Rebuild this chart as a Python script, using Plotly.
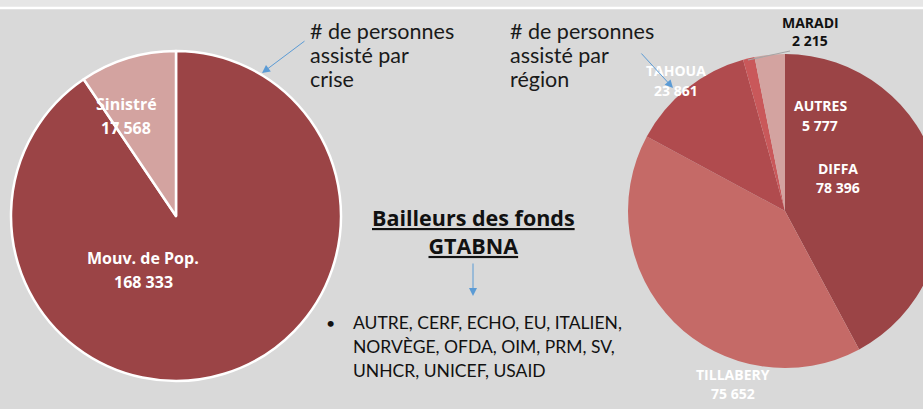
import plotly.graph_objects as go

# ---------------- data ----------------
crise_labels = ["Mouv. de Pop.", "Sinistré"]
crise_values = [168333, 17568]
crise_colors = ["#9b4446", "#d3a3a0"]

region_labels = ["DIFFA", "TILLABERY", "TAHOUA", "MARADI", "AUTRES"]
region_values = [78396, 75652, 23861, 2215, 5777]
region_colors = ["#9b4446", "#c56a67", "#b04b4e", "#c9585a", "#d3a3a0"]

bailleurs_lines = ["AUTRE, CERF, ECHO, EU, ITALIEN,",
                   "NORVÈGE, OFDA, OIM, PRM, SV,",
                   "UNHCR, UNICEF, USAID"]

W, H = 950, 409
FONT = "Lato, 'Liberation Sans', sans-serif"
BFONT = "'Open Sans', 'Liberation Sans', sans-serif"


def px(x, y):
    return x / W, 1 - y / H


def fmt(v):
    return f"{v:,}".replace(",", " ")


def dom(cx, cy, r):
    x0, y1 = px(cx - r, cy - r)
    x1, y0 = px(cx + r, cy + r)
    return dict(x=[x0, x1], y=[y0, y1])


fig = go.Figure()
fig.add_trace(go.Pie(
    labels=crise_labels, values=crise_values, sort=False, direction="clockwise",
    rotation=0, textinfo="none", hoverinfo="label+value",
    marker=dict(colors=crise_colors, line=dict(color="white", width=2.5)),
    domain=dom(176, 216, 165), showlegend=False))
fig.add_trace(go.Pie(
    labels=region_labels, values=region_values, sort=False, direction="clockwise",
    rotation=0, textinfo="none", hoverinfo="label+value",
    marker=dict(colors=region_colors, line=dict(width=0)),
    domain=dom(785, 211, 157), showlegend=False))

ann = []


def text(x, y, s, size, color="#1a1a1a", bold=False, xanchor="center", family=FONT):
    xx, yy = px(x, y)
    ann.append(dict(x=xx, y=yy, xref="paper", yref="paper", text=(f"<b>{s}</b>" if bold else s),
                    showarrow=False, xanchor=xanchor, yanchor="middle",
                    font=dict(family=family, size=size, color=color)))


def arrow(x0, y0, x1, y1):
    xx, yy = px(x1, y1)
    ann.append(dict(x=xx, y=yy, xref="paper", yref="paper", ax=x0 - x1, ay=y0 - y1,
                    axref="pixel", ayref="pixel", text="", showarrow=True,
                    arrowhead=2, arrowsize=1.6, arrowwidth=1, arrowcolor="#5b9bd5"))


# pie labels (left)
lab = dict(zip(crise_labels, crise_values))
text(126, 104, "Sinistré", 16, "white", True, family=BFONT)
text(126, 128, fmt(lab["Sinistré"]), 16, "white", True, family=BFONT)
text(143, 258, "Mouv. de Pop.", 16, "white", True, family=BFONT)
text(143, 282, fmt(lab["Mouv. de Pop."]), 16, "white", True, family=BFONT)

# pie labels (right)
rl = dict(zip(region_labels, region_values))
for name, (x, y), col in [("TAHOUA", (676, 71), "white"), ("AUTRES", (820, 106), "white"),
                          ("DIFFA", (838, 168), "white"), ("TILLABERY", (733, 374), "white"),
                          ("MARADI", (810, 22), "#111111")]:
    text(x, y, name, 14, col, True, family=BFONT)
    text(x, y + 19, fmt(rl[name]), 14, col, True, family=BFONT)

# headings
for i, s in enumerate(["# de personnes", "assisté par", "crise"]):
    text(308, 31 + 24 * i, s, 21.5, xanchor="left")
for i, s in enumerate(["# de personnes", "assisté par", "région"]):
    text(508, 31 + 24 * i, s, 21.5, xanchor="left")

text(473, 231, "<span style='text-decoration:underline'>Bailleurs des fonds</span><br>"
               "<span style='text-decoration:underline'>GTABNA</span>", 21.5, "#111111", True, family=BFONT)

text(330, 322, "•", 16, "#111111", xanchor="center")
for i, s in enumerate(bailleurs_lines):
    text(351, 322 + 24 * i, s, 17.5, "#111111", xanchor="left")

arrow(306, 40, 262, 73)
arrow(640, 52, 673, 88)
arrow(473, 262, 473, 296)

shapes = []
x0, y0 = px(0, 7)
shapes.append(dict(type="rect", xref="paper", yref="paper", x0=0, x1=1, y0=y0, y1=1,
                   fillcolor="#e6e6e6", line=dict(width=0), layer="below"))
a0, b0 = px(0, 8)
shapes.append(dict(type="line", xref="paper", yref="paper", x0=0, x1=1, y0=b0, y1=b0,
                   line=dict(color="white", width=2.5)))
lx0, ly0 = px(748, 60)
lx1, ly1 = px(790, 51)
shapes.append(dict(type="line", xref="paper", yref="paper", x0=lx0, y0=ly0, x1=lx1, y1=ly1,
                   line=dict(color="#a6a6a6", width=1.2)))

fig.update_layout(width=W, height=H, margin=dict(l=0, r=0, t=0, b=0),
                  paper_bgcolor="#d9d9d9", plot_bgcolor="#d9d9d9",
                  annotations=ann, shapes=shapes, showlegend=False)

fig.write_html("out.html", config={"displayModeBar": False},
               post_script="document.body.style.margin='0';document.body.style.overflow='hidden';document.documentElement.style.overflow='hidden';")
